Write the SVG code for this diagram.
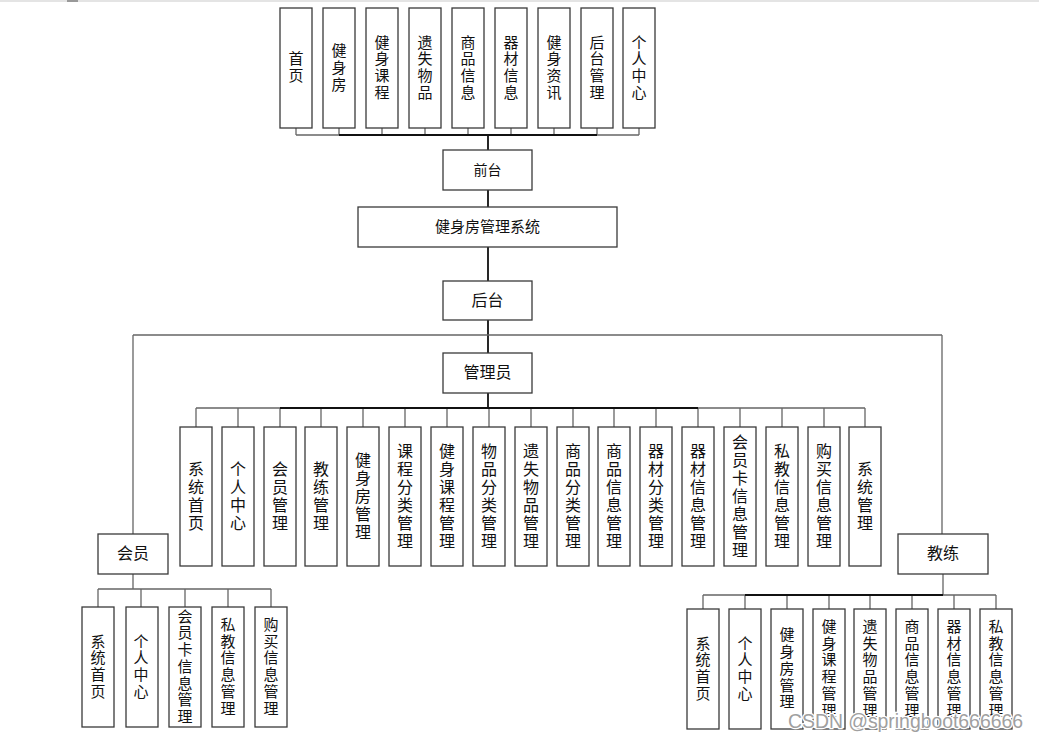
<svg xmlns="http://www.w3.org/2000/svg" width="1039" height="741" viewBox="0 0 1039 741">
<style>
.box{fill:#fff;stroke:#3a3a3a;stroke-width:1.3}
.t{font-family:"Noto Sans CJK SC","Noto Sans CJK JP",sans-serif;fill:#111;text-anchor:middle}
.v{writing-mode:vertical-rl;font-family:"Noto Sans CJK SC","Noto Sans CJK JP",sans-serif;fill:#111;text-anchor:middle}
.a{font-size:16px;letter-spacing:2px}
.b{font-size:15px;letter-spacing:1.7px}
.s15{font-size:15px}
.s16{font-size:16px}
.ln{fill:none;stroke:#666;stroke-width:1.3}
.tr{fill:none;stroke:#111;stroke-width:1.8}
.wm{font-family:"Liberation Sans",Arial,sans-serif;font-size:19.4px;fill:#a0a0a0;stroke:#fff;stroke-width:2.5;paint-order:stroke}
</style>
<rect x="0" y="0" width="1039" height="741" fill="#fff"/>
<rect x="0" y="0" width="1039" height="2" fill="#e4e4e4"/>
<rect x="67" y="0" width="11" height="2" fill="#999"/>
<g id="connectors">
<path class="ln" d="M296 128V135M339 128V135M382 128V135M425 128V135M468 128V135M511 128V135M554 128V135M597 128V135M639 128V135M296 135H639"/>
<path class="tr" d="M339 135H597M488 135V150M488 190V207M488 247V281M488 320V353M488 393V408"/>
<path class="ln" d="M133 335H942M133 335V534M942 335V534"/>
<path class="ln" d="M196 408H865M196 408V427M238 408V427M280 408V427M321 408V427M363 408V427M405 408V427M447 408V427M489 408V427M531 408V427M573 408V427M614 408V427M656 408V427M698 408V427M740 408V427M782 408V427M824 408V427M865 408V427"/>
<path class="tr" d="M280 408H698"/>
<path class="ln" d="M133 574V589M98 589H271M98 589V607M141 589V607M185 589V607M228 589V607M271 589V607"/>
<path class="ln" d="M943 574V595M703 595H996M703 595V609M745 595V609M787 595V609M829 595V609M870 595V609M912 595V609M954 595V609M996 595V609"/>
<path class="tr" d="M745 595H943"/>
</g>
<g id="top-nodes">
<g id="n-shouye"><rect class="box" x="280" y="8" width="32" height="120"/><text class="v b" x="296" y="68">首页</text></g>
<g id="n-jianshenfang"><rect class="box" x="323" y="8" width="32" height="120"/><text class="v b" x="339" y="68">健身房</text></g>
<g id="n-kecheng"><rect class="box" x="366" y="8" width="32" height="120"/><text class="v b" x="382" y="68">健身课程</text></g>
<g id="n-yishi"><rect class="box" x="409" y="8" width="32" height="120"/><text class="v b" x="425" y="68">遗失物品</text></g>
<g id="n-shangpin"><rect class="box" x="452" y="8" width="32" height="120"/><text class="v b" x="468" y="68">商品信息</text></g>
<g id="n-qicai"><rect class="box" x="495" y="8" width="32" height="120"/><text class="v b" x="511" y="68">器材信息</text></g>
<g id="n-zixun"><rect class="box" x="538" y="8" width="32" height="120"/><text class="v b" x="554" y="68">健身资讯</text></g>
<g id="n-houtaiguanli"><rect class="box" x="581" y="8" width="32" height="120"/><text class="v b" x="597" y="68">后台管理</text></g>
<g id="n-geren"><rect class="box" x="623" y="8" width="32" height="120"/><text class="v b" x="639" y="68">个人中心</text></g>
</g>
<g id="n-qiantai"><rect class="box" x="443" y="150" width="89" height="40"/><text class="t" style="font-size:14px" x="487.5" y="175">前台</text></g>
<g id="n-system"><rect class="box" x="358" y="207" width="259" height="40"/><text class="t s15" x="487.5" y="232">健身房管理系统</text></g>
<g id="n-houtai"><rect class="box" x="443" y="281" width="89" height="39"/><text class="t s16" x="487.5" y="306">后台</text></g>
<g id="n-admin"><rect class="box" x="443" y="353" width="89" height="40"/><text class="t s16" x="487.5" y="378">管理员</text></g>
<g id="admin-nodes">
<g><rect class="box" x="180" y="427" width="32" height="139"/><text class="v a" x="196" y="497">系统首页</text></g>
<g><rect class="box" x="222" y="427" width="32" height="139"/><text class="v a" x="238" y="497">个人中心</text></g>
<g><rect class="box" x="264" y="427" width="32" height="139"/><text class="v a" x="280" y="497">会员管理</text></g>
<g><rect class="box" x="305" y="427" width="32" height="139"/><text class="v a" x="321" y="497">教练管理</text></g>
<g><rect class="box" x="347" y="427" width="32" height="139"/><text class="v a" x="363" y="497">健身房管理</text></g>
<g><rect class="box" x="389" y="427" width="32" height="139"/><text class="v a" x="405" y="497">课程分类管理</text></g>
<g><rect class="box" x="431" y="427" width="32" height="139"/><text class="v a" x="447" y="497">健身课程管理</text></g>
<g><rect class="box" x="473" y="427" width="32" height="139"/><text class="v a" x="489" y="497">物品分类管理</text></g>
<g><rect class="box" x="515" y="427" width="32" height="139"/><text class="v a" x="531" y="497">遗失物品管理</text></g>
<g><rect class="box" x="557" y="427" width="32" height="139"/><text class="v a" x="573" y="497">商品分类管理</text></g>
<g><rect class="box" x="598" y="427" width="32" height="139"/><text class="v a" x="614" y="497">商品信息管理</text></g>
<g><rect class="box" x="640" y="427" width="32" height="139"/><text class="v a" x="656" y="497">器材分类管理</text></g>
<g><rect class="box" x="682" y="427" width="32" height="139"/><text class="v a" x="698" y="497">器材信息管理</text></g>
<g><rect class="box" x="724" y="427" width="32" height="139"/><text class="v a" x="740" y="497">会员卡信息管理</text></g>
<g><rect class="box" x="766" y="427" width="32" height="139"/><text class="v a" x="782" y="497">私教信息管理</text></g>
<g><rect class="box" x="808" y="427" width="32" height="139"/><text class="v a" x="824" y="497">购买信息管理</text></g>
<g><rect class="box" x="849" y="427" width="32" height="139"/><text class="v a" x="865" y="497">系统管理</text></g>
</g>
<g id="n-member"><rect class="box" x="98" y="534" width="70" height="40"/><text class="t s16" x="133" y="559">会员</text></g>
<g id="member-nodes">
<g><rect class="box" x="82" y="607" width="32" height="120"/><text class="v b" x="98" y="667">系统首页</text></g>
<g><rect class="box" x="126" y="607" width="32" height="120"/><text class="v b" x="141" y="667">个人中心</text></g>
<g><rect class="box" x="169" y="607" width="32" height="120"/><text class="v b" x="185" y="667">会员卡信息管理</text></g>
<g><rect class="box" x="212" y="607" width="32" height="120"/><text class="v b" x="228" y="667">私教信息管理</text></g>
<g><rect class="box" x="255" y="607" width="32" height="120"/><text class="v b" x="271" y="667">购买信息管理</text></g>
</g>
<g id="n-coach"><rect class="box" x="898" y="534" width="90" height="40"/><text class="t s16" x="943" y="559">教练</text></g>
<g id="coach-nodes">
<g><rect class="box" x="687" y="609" width="32" height="120"/><text class="v b" x="703" y="669">系统首页</text></g>
<g><rect class="box" x="729" y="609" width="32" height="120"/><text class="v b" x="745" y="669">个人中心</text></g>
<g><rect class="box" x="771" y="609" width="32" height="120"/><text class="v b" x="787" y="669">健身房管理</text></g>
<g><rect class="box" x="813" y="609" width="32" height="120"/><text class="v b" x="829" y="669">健身课程管理</text></g>
<g><rect class="box" x="854" y="609" width="32" height="120"/><text class="v b" x="870" y="669">遗失物品管理</text></g>
<g><rect class="box" x="896" y="609" width="32" height="120"/><text class="v b" x="912" y="669">商品信息管理</text></g>
<g><rect class="box" x="938" y="609" width="32" height="120"/><text class="v b" x="954" y="669">器材信息管理</text></g>
<g><rect class="box" x="980" y="609" width="32" height="120"/><text class="v b" x="996" y="669">私教信息管理</text></g>
</g>
<text class="wm" x="788" y="728" textLength="235">CSDN @springboot666666</text>
</svg>
